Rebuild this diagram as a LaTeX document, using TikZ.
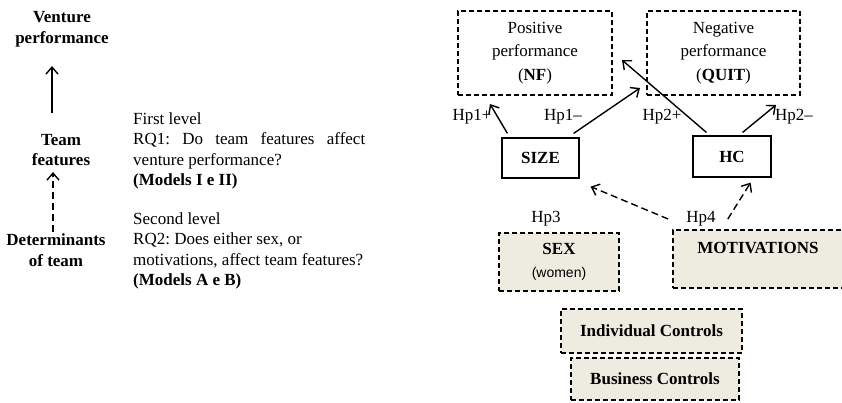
\documentclass[tikz,border=0pt]{standalone}
\usepackage{fontspec}
\setmainfont{Liberation Serif}
\newfontfamily\sansf{Liberation Sans}
\usetikzlibrary{arrows.meta}
\definecolor{boxfill}{RGB}{238,235,225}
\AtBeginDocument{\fontsize{17}{20.5}\selectfont\frenchspacing}
\begin{document}
\begin{tikzpicture}[x=1pt,y=-1pt,
  arr/.style={-{Straight Barb[length=7pt,width=12pt,line width=1.4pt]}, line width=1.4pt},
  darr/.style={arr, dash pattern=on 7pt off 4pt},
  sbox/.style={draw, line width=1.2pt, inner sep=0pt, font=\bfseries},
  dbox/.style={draw, line width=1.1pt, dash pattern=on 5pt off 3pt, inner sep=0pt, align=center},
  fbox/.style={dbox, fill=boxfill},
  lbl/.style={inner sep=0pt},
  side/.style={inner sep=0pt, align=center, font=\bfseries}
]
\useasboundingbox (0,0) rectangle (842,402);
\clip (0,0) rectangle (842,402);

% left column
\node[side] (venture) at (62,29) {Venture\\performance};
\node[side] (team) at (61,150) {Team\\features};
\node[side] (determ) at (56,250) {Determinants\\of team};
\coordinate (l1s) at (52,113);
\coordinate (l1e) at (52,66);
\coordinate (l2s) at (53,232);
\coordinate (l2e) at (53,172);
\draw[arr] (l1s) -- (l1e);
\draw[darr] (l2s) -- (l2e);

\node[lbl, anchor=north west, align=left] (rq1) at (133,112)
  {First level\\\makebox[232pt][s]{RQ1: Do team features affect}\\venture performance?\\\textbf{(Models I e II)}};
\node[lbl, anchor=north west, align=left] (rq2) at (133,212)
  {Second level\\RQ2: Does either sex, or\\motivations, affect team features?\\\textbf{(Models A e B)}};

% right diagram
\node[dbox, minimum width=154pt, minimum height=84pt] (pos) at (535,53)
  {Positive\\[3pt]performance\\[3pt](\textbf{NF})};
\node[dbox, minimum width=153pt, minimum height=84pt] (neg) at (723.5,53)
  {Negative\\[3pt]performance\\[3pt](\textbf{QUIT})};
\node[sbox, minimum width=77pt, minimum height=40pt] (size) at (540.5,158) {SIZE};
\node[sbox, minimum width=78pt, minimum height=41pt] (hc) at (732,156.5) {HC};

\node[fbox, minimum width=120pt, minimum height=58pt] (sex) at (559,262)
  {\textbf{SEX}\\[3pt]{\sansf\fontsize{14}{16}\selectfont(women)}};
\node[fbox, minimum width=187pt, minimum height=58pt] (mot) at (766.5,259) {};
\node[lbl] (motl) at (758,248) {\textbf{MOTIVATIONS}};
\node[fbox, minimum width=181pt, minimum height=44pt] (ind) at (651.5,331) {\textbf{Individual Controls}};
\node[fbox, minimum width=168pt, minimum height=42pt] (bus) at (655,379) {\textbf{Business Controls}};

% labels
\node[lbl] (h1p) at (472,117) {Hp1+};
\node[lbl] (h1m) at (563,117) {Hp1–};
\node[lbl] (h2p) at (662,117) {Hp2+};
\node[lbl] (h2m) at (794,117) {Hp2–};
\node[lbl] (h3) at (546,219) {Hp3};
\node[lbl] (h4) at (701,219) {Hp4};

% arrows
\coordinate (a1e) at (490,104);
\coordinate (a2e) at (640,88);
\coordinate (a3e) at (622,60);
\coordinate (a4e) at (776,105);
\draw[arr] ([shift={(6,-4)}]size.north west) -- (a1e);
\draw[arr] ([shift={(-6,-4)}]size.north east) -- (a2e);
\draw[arr] ([shift={(14,-3)}]hc.north west) -- (a3e);
\draw[arr] ([shift={(-29,-3)}]hc.north east) -- (a4e);
\draw[darr] ([xshift=-18pt]h4.west) -- ([shift={(11,8)}]size.south east);
\draw[darr] ([xshift=12pt]h4.east) -- ([shift={(-21,5)}]hc.south east);
\end{tikzpicture}
\end{document}
